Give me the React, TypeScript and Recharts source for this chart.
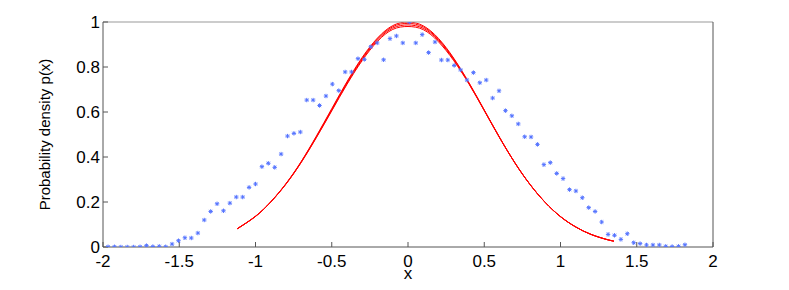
import { ComposedChart, Label, Line, Scatter, XAxis, YAxis } from "recharts";

// sample points (blue stars)
const sampleX = [
  -1.967, -1.925, -1.883, -1.841, -1.799, -1.757, -1.715, -1.673, -1.631, -1.589,
  -1.547, -1.505, -1.463, -1.421, -1.378, -1.336, -1.294, -1.252, -1.21, -1.168,
  -1.126, -1.084, -1.042, -1.0, -0.958, -0.916, -0.874, -0.832, -0.79, -0.748,
  -0.706, -0.664, -0.622, -0.58, -0.538, -0.496, -0.454, -0.412, -0.37, -0.328,
  -0.286, -0.244, -0.202, -0.16, -0.118, -0.076, -0.034, 0.009, 0.051, 0.093,
  0.135, 0.177, 0.219, 0.261, 0.303, 0.345, 0.387, 0.429, 0.471, 0.513,
  0.555, 0.597, 0.639, 0.681, 0.723, 0.765, 0.807, 0.849, 0.891, 0.933,
  0.975, 1.017, 1.059, 1.101, 1.143, 1.185, 1.227, 1.27, 1.312, 1.354,
  1.396, 1.438, 1.48, 1.522, 1.564, 1.606, 1.648, 1.69, 1.732, 1.774, 1.816,
];
const sampleY = [
  0.001, 0.001, 0.0, 0.0, 0.0, 0.001, 0.006, 0.002, 0.003, 0.001,
  0.013, 0.028, 0.041, 0.04, 0.062, 0.12, 0.158, 0.192, 0.161, 0.195,
  0.222, 0.222, 0.265, 0.28, 0.357, 0.372, 0.354, 0.413, 0.493, 0.505,
  0.511, 0.653, 0.653, 0.629, 0.671, 0.724, 0.695, 0.778, 0.778, 0.837,
  0.834, 0.89, 0.907, 0.832, 0.926, 0.938, 0.907, 1.0, 0.907, 0.944,
  0.864, 0.911, 0.831, 0.831, 0.807, 0.787, 0.742, 0.775, 0.73, 0.742,
  0.662, 0.694, 0.606, 0.583, 0.547, 0.49, 0.489, 0.456, 0.366, 0.375,
  0.327, 0.304, 0.255, 0.249, 0.219, 0.175, 0.158, 0.111, 0.056, 0.052,
  0.034, 0.059, 0.019, 0.015, 0.009, 0.009, 0.009, 0.003, 0.002, 0.003, 0.01,
];

// fitted density curves (red), they bunch up near the peak
const curveX = [
  -1.12, -1.0, -0.9, -0.8, -0.7, -0.6, -0.5, -0.4, -0.3, -0.2, -0.1, 0, 0.1,
  0.2, 0.3, 0.4, 0.5, 0.6, 0.7, 0.8, 0.9, 1.0, 1.1, 1.2, 1.3, 1.35,
];
const curveA = [
  0.081, 0.137, 0.201, 0.282, 0.38, 0.494, 0.615, 0.735, 0.843, 0.929, 0.984, 1.0, 0.983,
  0.927, 0.839, 0.73, 0.609, 0.488, 0.375, 0.278, 0.198, 0.135, 0.089, 0.056, 0.034, 0.026,
];
const curveB = [
  0.081, 0.136, 0.2, 0.281, 0.379, 0.491, 0.611, 0.731, 0.839, 0.925, 0.979, 0.994, 0.978,
  0.923, 0.836, 0.728, 0.608, 0.487, 0.375, 0.278, 0.198, 0.135, 0.089, 0.056, 0.034, 0.026,
];
const curveC = [
  0.081, 0.136, 0.2, 0.28, 0.377, 0.489, 0.608, 0.727, 0.834, 0.92, 0.973, 0.987, 0.972,
  0.918, 0.832, 0.726, 0.607, 0.487, 0.375, 0.278, 0.198, 0.135, 0.089, 0.056, 0.034, 0.026,
];
const curveD = [
  0.081, 0.136, 0.2, 0.28, 0.376, 0.487, 0.605, 0.723, 0.829, 0.914, 0.967, 0.98, 0.966,
  0.912, 0.828, 0.724, 0.606, 0.486, 0.375, 0.278, 0.198, 0.135, 0.089, 0.056, 0.034, 0.026,
];

const xTicks = [-2, -1.5, -1, -0.5, 0, 0.5, 1, 1.5, 2];
const yTicks = [0, 0.2, 0.4, 0.6, 0.8, 1];

const samples = sampleX.map((x, i) => ({ x, y: sampleY[i] }));
const curves = [curveA, curveB, curveC, curveD].map((ys) =>
  curveX.map((x, i) => ({ x, y: ys[i] }))
);

const font = "'Liberation Sans', Arial, Helvetica, sans-serif";
const tickStyle = { fontSize: 17, fill: "#000", fontFamily: font };

const Star = (props: any) => {
  const { cx, cy } = props;
  if (cx == null || cy == null) return null;
  const r = 2.2;
  const d = r * 0.72;
  return (
    <g stroke="#5574ff" strokeWidth={1}>
      <line x1={cx - r} y1={cy} x2={cx + r} y2={cy} />
      <line x1={cx} y1={cy - r} x2={cx} y2={cy + r} />
      <line x1={cx - d} y1={cy - d} x2={cx + d} y2={cy + d} />
      <line x1={cx - d} y1={cy + d} x2={cx + d} y2={cy - d} />
    </g>
  );
};

const YTitle = (props: any) => {
  const vb = props.viewBox || {};
  const cy = vb.y + vb.height / 2;
  return (
    <text
      x={44}
      y={cy}
      transform={`rotate(-90, 44, ${cy})`}
      textAnchor="middle"
      dominantBaseline="central"
      fontSize={15}
      fontFamily={font}
      fill="#000"
    >
      Probability density p(x)
    </text>
  );
};

const XTitle = (props: any) => {
  const vb = props.viewBox || {};
  return (
    <text
      x={vb.x + vb.width / 2}
      y={279}
      textAnchor="middle"
      fontSize={17}
      fontFamily={font}
      fill="#000"
    >
      x
    </text>
  );
};

export default function App() {
  return (
    <div style={{ position: "absolute", left: 0, top: 0, width: 789, height: 290, background: "#fff" }}>
      <ComposedChart width={789} height={290} margin={{ top: 0, right: 75, bottom: 0, left: 0 }}>
        <XAxis
          xAxisId="main"
          dataKey="x"
          type="number"
          domain={[-2, 2]}
          ticks={xTicks}
          interval={0}
          allowDataOverflow
          height={43}
          tickSize={-5}
          tickMargin={13}
          tick={tickStyle}
          tickFormatter={(v: number) => String(v)}
          axisLine={{ stroke: "#555" }}
          tickLine={{ stroke: "#555" }}
        >
          <Label content={XTitle} />
        </XAxis>
        <XAxis
          xAxisId="top"
          orientation="top"
          dataKey="x"
          type="number"
          domain={[-2, 2]}
          ticks={xTicks}
          interval={0}
          height={22}
          tickSize={-5}
          tick={false}
          axisLine={{ stroke: "#999" }}
          tickLine={{ stroke: "#999" }}
        />
        <YAxis
          yAxisId="main"
          dataKey="y"
          type="number"
          domain={[0, 1]}
          ticks={yTicks}
          interval={0}
          allowDataOverflow
          width={103}
          tickSize={-5}
          tickMargin={8}
          tick={tickStyle}
          tickFormatter={(v: number) => String(v)}
          axisLine={{ stroke: "#555" }}
          tickLine={{ stroke: "#555" }}
        >
          <Label content={YTitle} />
        </YAxis>
        <YAxis
          yAxisId="right"
          orientation="right"
          type="number"
          domain={[0, 1]}
          ticks={yTicks}
          interval={0}
          width={1}
          tickSize={-5}
          tick={false}
          axisLine={{ stroke: "#555" }}
          tickLine={{ stroke: "#555" }}
        />
        <Scatter
          xAxisId="main"
          yAxisId="main"
          data={samples}
          dataKey="y"
          shape={Star}
          isAnimationActive={false}
        />
        {curves.map((c, i) => (
          <Line
            key={i}
            xAxisId="main"
            yAxisId="main"
            data={c}
            dataKey="y"
            type="natural"
            stroke="#ff0000"
            strokeWidth={1}
            dot={false}
            activeDot={false}
            isAnimationActive={false}
          />
        ))}
      </ComposedChart>
    </div>
  );
}
